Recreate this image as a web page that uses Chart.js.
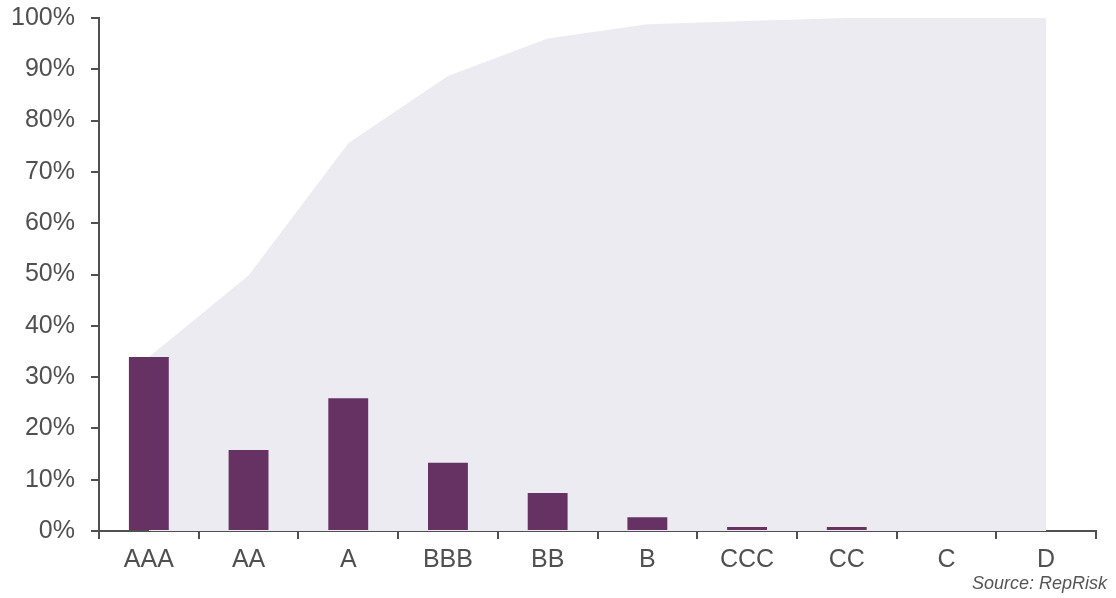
<!DOCTYPE html>
<html lang="en">
<head>
    <meta charset="UTF-8">
    <title>Rating distribution</title>
    <script src="https://cdn.jsdelivr.net/npm/chart.js"></script>
    <style>
        body { margin: 0; background: #fff; font-family: "Liberation Sans", Arial, sans-serif; }
        .wrap { position: relative; width: 1116px; height: 598px; }
        .source { position: absolute; right: 9px; top: 573px; font-size: 18px; font-style: italic; color: #555; }
    </style>
</head>
<body>

<div class="wrap">
    <canvas id="ratingChart" width="1116" height="598"></canvas>
    <div class="source">Source: RepRisk</div>
</div>

<script>
// Ratings and share of companies (%)
const ratings = ['AAA', 'AA', 'A', 'BBB', 'BB', 'B', 'CCC', 'CC', 'C', 'D'];
const share = [33.9, 15.8, 25.9, 13.3, 7.4, 2.7, 0.8, 0.8, 0, 0];
const cumulative = [33.9, 49.8, 75.6, 88.7, 96.0, 98.8, 99.4, 100, 100, 100];
const yTicks = [0, 10, 20, 30, 40, 50, 60, 70, 80, 90, 100];

const axisColor = '#505050';

new Chart(document.getElementById('ratingChart'), {
    type: 'bar',
    data: {
        labels: ratings,
        datasets: [
            {
                type: 'line',
                data: cumulative,
                fill: 'origin',
                backgroundColor: '#ebebf1',
                borderWidth: 0,
                pointRadius: 0,
                tension: 0,
                order: 2
            },
            {
                data: share,
                backgroundColor: '#653263',
                borderWidth: 0,
                barPercentage: 0.4,
                categoryPercentage: 1,
                order: 1
            }
        ]
    },
    options: {
        responsive: false,
        animation: false,
        layout: { padding: { top: 18, right: 20, bottom: 0, left: 0 } },
        plugins: { legend: { display: false }, tooltip: { enabled: false } },
        scales: {
            x: {
                afterFit: s => { s.height = 67; s.paddingLeft = 0; s.paddingRight = 0; },
                grid: { drawOnChartArea: false, tickLength: 8, color: axisColor, lineWidth: 2 },
                border: { color: axisColor, width: 2 },
                ticks: { color: axisColor, padding: 6, font: { size: 25, family: '"Liberation Sans", Arial' } }
            },
            y: {
                min: 0,
                max: 100,
                afterFit: s => { s.width = 99; s.paddingTop = 0; s.paddingBottom = 0; },
                afterBuildTicks: s => { s.ticks = yTicks.map(v => ({ value: v })); },
                grid: { drawOnChartArea: false, tickLength: 8, color: axisColor, lineWidth: 2 },
                border: { color: axisColor, width: 2 },
                ticks: {
                    color: axisColor,
                    padding: 16,
                    font: { size: 25, family: '"Liberation Sans", Arial' },
                    callback: v => v + '%'
                }
            }
        }
    }
});
</script>

</body>
</html>
